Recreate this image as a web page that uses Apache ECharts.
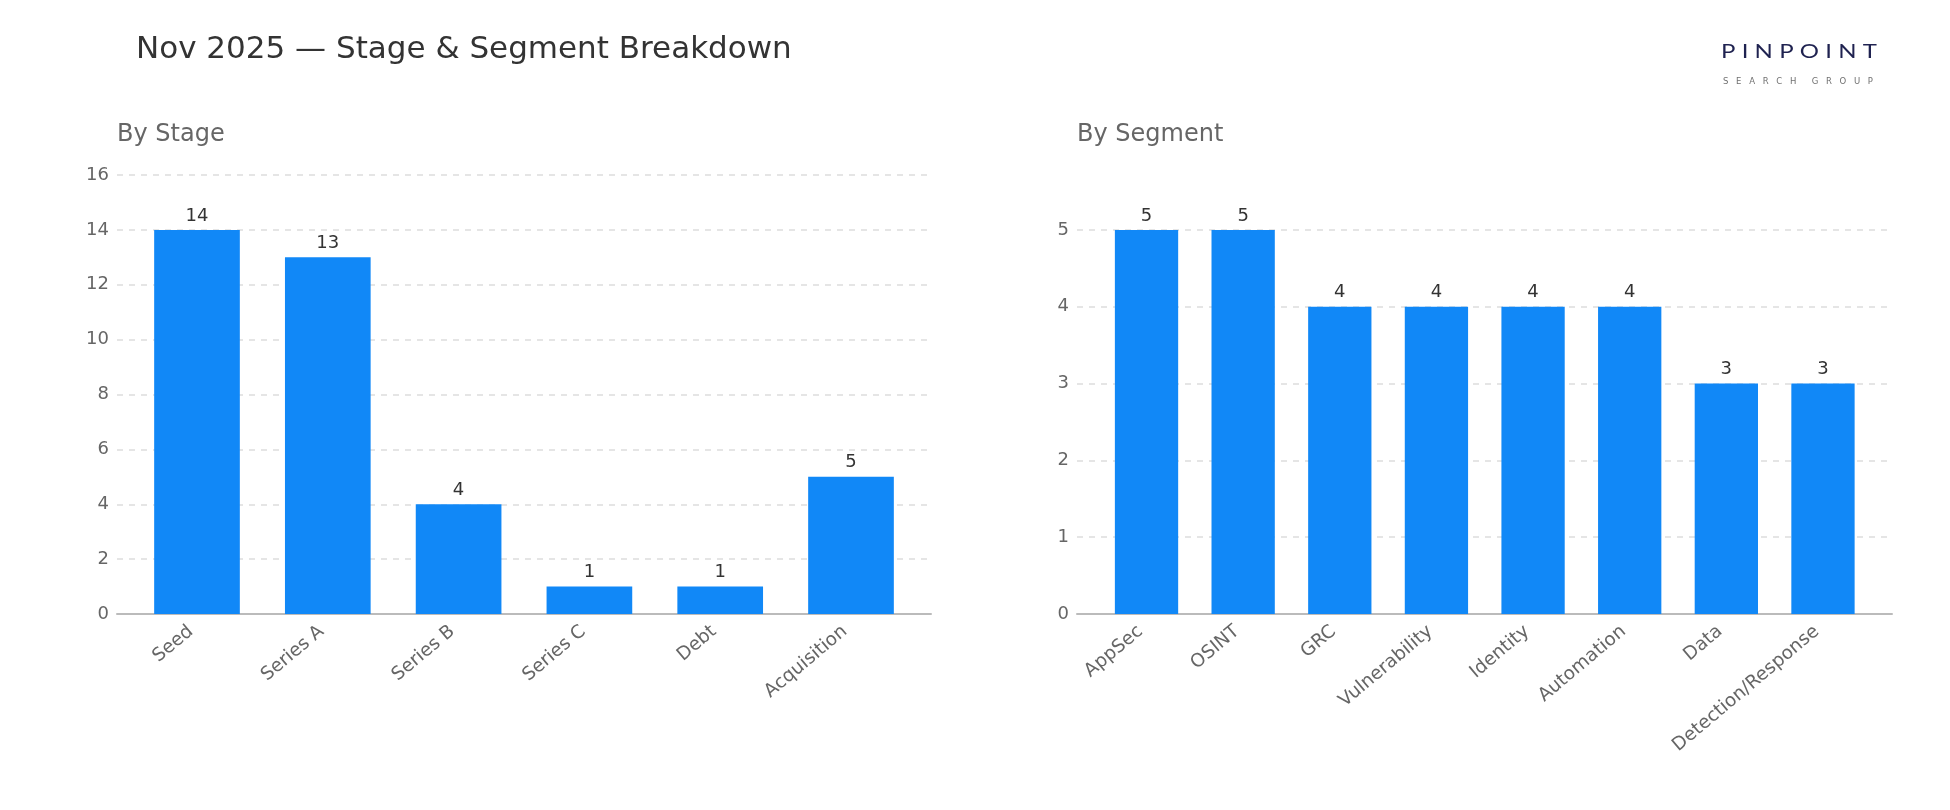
<!DOCTYPE html>
<html>
<head>
<meta charset="utf-8">
<script src="https://cdn.jsdelivr.net/npm/echarts@6/dist/echarts.min.js"></script>
<style>
  html, body { margin: 0; padding: 0; background: #fff; }
  #main { width: 1950px; height: 810px; }
</style>
</head>
<body>
<div id="main"></div>
<script>
// stage data
var stageNames = ['Seed', 'Series A', 'Series B', 'Series C', 'Debt', 'Acquisition'];
var stageCounts = [14, 13, 4, 1, 1, 5];
var stageTicks = { max: 16, step: 2 };

// segment data
var segmentNames = ['AppSec', 'OSINT', 'GRC', 'Vulnerability', 'Identity', 'Automation', 'Data', 'Detection/Response'];
var segmentCounts = [5, 5, 4, 4, 4, 4, 3, 3];
var segmentTicks = { max: 5, step: 1 };

var FONT = 'DejaVu Sans';
var BAR = '#1188f7';

// frame grids (gridlines + axis line) and inner grids (bars, padded a bit)
var frames = [
  { left: 117, width: 814, top: 175, height: 439 },
  { left: 1077, width: 815, top: 230, height: 384 }
];
var inner = [
  { left: 131.6, width: 784.8, top: 175, height: 439 },
  { left: 1098.2, width: 773.1, top: 230, height: 384 }
];

function frameX(idx) {
  return {
    type: 'value', gridIndex: idx, min: 0, max: 1,
    axisLine: { show: true, onZero: false, lineStyle: { color: '#bbbbbb', width: 2 } },
    axisTick: { show: false }, axisLabel: { show: false }, splitLine: { show: false }
  };
}

function frameY(idx, t) {
  return {
    type: 'value', gridIndex: idx, min: 0, max: t.max, interval: t.step,
    axisLine: { show: false }, axisTick: { show: false },
    axisLabel: { color: '#666', fontSize: 18, fontFamily: FONT, margin: 8 },
    splitLine: { lineStyle: { color: '#dddddd', type: [6, 6], width: 1.5 } }
  };
}

function barX(idx, names) {
  return {
    type: 'category', gridIndex: idx, data: names,
    axisLine: { show: false }, axisTick: { show: false },
    axisLabel: { rotate: 40, color: '#666', fontSize: 18.5, fontFamily: FONT, margin: 10,
      padding: [0, 8, 0, 0], interval: 0 }
  };
}

function barY(idx, t) {
  return {
    type: 'value', gridIndex: idx, min: 0, max: t.max, interval: t.step, show: false,
    splitLine: { show: false }
  };
}

function makeSeries(idx, values) {
  return {
    type: 'bar', xAxisIndex: idx, yAxisIndex: idx, data: values,
    barWidth: '65.5%',
    itemStyle: { color: BAR },
    label: { show: true, position: 'top', color: '#333', fontSize: 18, fontFamily: FONT, distance: 5 }
  };
}

// spread letters of a word evenly between x0 and x1 (logo wordmark tracking)
var measureCtx = document.createElement('canvas').getContext('2d');
function spaced(word, font, x0, x1, y, color, sx) {
  measureCtx.font = font;
  var widths = [];
  var total = 0;
  for (var i = 0; i < word.length; i++) {
    var w = word[i] === ' ' ? 0 : measureCtx.measureText(word[i]).width * sx;
    widths.push(w);
    total += w;
  }
  var gap = (x1 - x0 - total) / (word.length - 1);
  var out = [];
  var x = x0;
  for (var k = 0; k < word.length; k++) {
    if (word[k] !== ' ') {
      out.push({ type: 'text', x: x, y: y, scaleX: sx, style: { text: word[k], fill: color, font: font } });
    }
    x += widths[k] + gap;
  }
  return out;
}

var logo = spaced('PINPOINT', '20px Lato', 1721, 1877, 42, '#1f2250', 1.2)
  .concat(spaced('SEARCH GROUP', '8.5px "DejaVu Sans"', 1723, 1873, 77, '#707070', 1));

var chart = echarts.init(document.getElementById('main'), null, { renderer: 'canvas' });

chart.setOption({
  backgroundColor: '#fff',
  animation: false,
  title: [
    { text: 'Nov 2025 — Stage & Segment Breakdown', left: 131, top: 29,
      textStyle: { fontFamily: FONT, fontSize: 31, fontWeight: 'normal', color: '#333' } },
    { text: 'By Stage', left: 112, top: 118,
      textStyle: { fontFamily: FONT, fontSize: 24, fontWeight: 'normal', color: '#666' } },
    { text: 'By Segment', left: 1072, top: 118,
      textStyle: { fontFamily: FONT, fontSize: 24, fontWeight: 'normal', color: '#666' } }
  ],
  graphic: logo,
  grid: frames.concat(inner),
  xAxis: [frameX(0), frameX(1), barX(2, stageNames), barX(3, segmentNames)],
  yAxis: [frameY(0, stageTicks), frameY(1, segmentTicks), barY(2, stageTicks), barY(3, segmentTicks)],
  series: [makeSeries(2, stageCounts), makeSeries(3, segmentCounts)]
});
</script>
</body>
</html>
